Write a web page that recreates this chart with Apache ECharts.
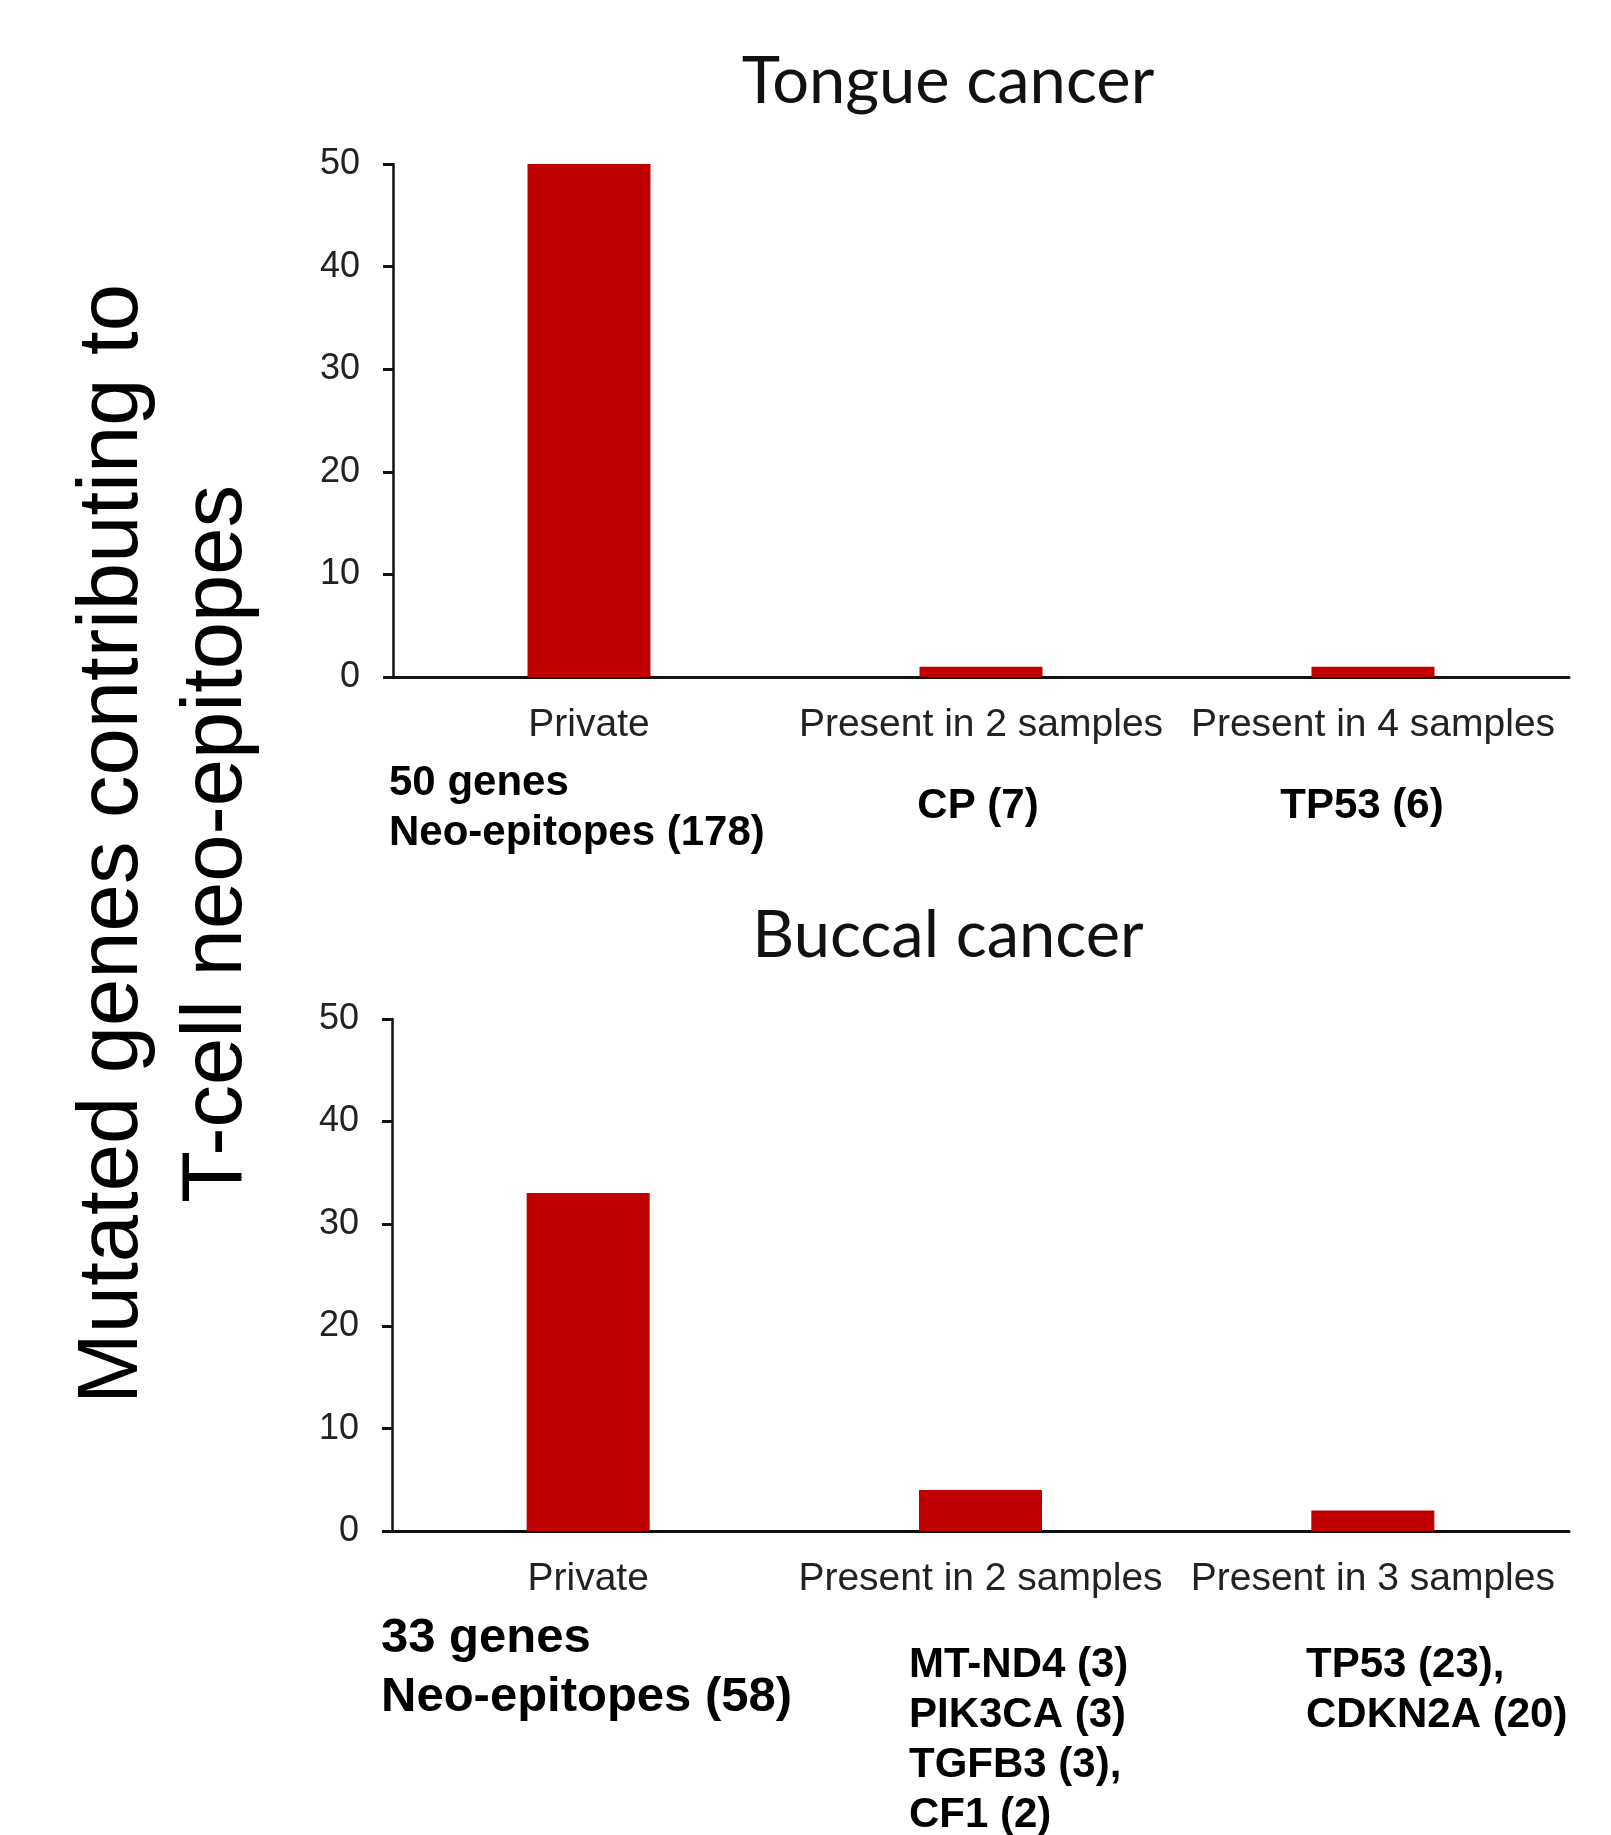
<!DOCTYPE html>
<html>
<head>
<meta charset="utf-8">
<script src="https://cdn.jsdelivr.net/npm/echarts@6/dist/echarts.min.js"></script>
<style>
html,body{margin:0;padding:0;background:#fff;}
#chart{width:1611px;height:1835px;}
</style>
</head>
<body>
<div id="chart"></div>
<script>
// ---- data ----
const tongueCategories = ['Private', 'Present in 2 samples', 'Present in 4 samples'];
const tongueValues = [50, 1, 1];
const buccalCategories = ['Private', 'Present in 2 samples', 'Present in 3 samples'];
const buccalValues = [33, 4, 2];
const yMin = 0, yMax = 50, yInterval = 10;
const panelTitles = ['Tongue cancer', 'Buccal cancer'];
const yAxisTitleLines = ['Mutated genes contributing to', 'T-cell neo-epitopes'];
const tongueSummary = ['50 genes', 'Neo-epitopes (178)'];
const tongueShared2 = ['CP (7)'];
const tongueShared4 = ['TP53 (6)'];
const buccalSummary = ['33 genes', 'Neo-epitopes (58)'];
const buccalShared2 = ['MT-ND4 (3)', 'PIK3CA (3)', 'TGFB3 (3),', 'CF1 (2)'];
const buccalShared3 = ['TP53 (23),', 'CDKN2A (20)'];

// ---- style ----
const BAR = '#C00000';
const SANS = 'Liberation Sans, Arial, sans-serif';
const chart = echarts.init(document.getElementById('chart'), null, {renderer: 'canvas'});

function xAx(idx, cats) {
  return {
    type: 'category', gridIndex: idx, data: cats,
    axisLine: {lineStyle: {color: '#111', width: 3}},
    axisTick: {show: false},
    axisLabel: {color: '#222', fontSize: 39, fontFamily: SANS, margin: 29, lineHeight: 39, interval: 0}
  };
}
function yAx(idx) {
  return {
    type: 'value', gridIndex: idx, min: yMin, max: yMax, interval: yInterval,
    splitLine: {show: false},
    axisLine: {show: true, lineStyle: {color: '#111', width: 2.5}},
    axisTick: {show: true, length: 10, lineStyle: {color: '#111', width: 3}},
    axisLabel: {color: '#222', fontSize: 36, fontFamily: SANS, margin: 33}
  };
}

function textLines(lines, x, y0, step, size, align) {
  return lines.map((t, i) => ({
    type: 'text', x: x, y: y0 + i * step,
    style: {text: t, fontSize: size, fontWeight: 'bold', fontFamily: SANS, fill: '#000',
            textAlign: align, textVerticalAlign: 'middle'}
  }));
}

const graphics = [
  {type: 'text', x: 948, y: 82, style: {text: panelTitles[0], fontSize: 65, fontFamily: 'Lato, sans-serif', fill: '#111', textAlign: 'center', textVerticalAlign: 'middle'}},
  {type: 'text', x: 948, y: 936, style: {text: panelTitles[1], fontSize: 65, fontFamily: 'Lato, sans-serif', fill: '#111', textAlign: 'center', textVerticalAlign: 'middle'}},
  {type: 'text', x: 114, y: 844, rotation: Math.PI / 2, style: {text: yAxisTitleLines[0], fontSize: 85, fontFamily: SANS, fill: '#000', textAlign: 'center', textVerticalAlign: 'middle'}},
  {type: 'text', x: 218, y: 844, rotation: Math.PI / 2, style: {text: yAxisTitleLines[1], fontSize: 85, fontFamily: SANS, fill: '#000', textAlign: 'center', textVerticalAlign: 'middle'}}
]
.concat(textLines(tongueSummary, 389, 783, 50, 42, 'left'))
.concat(textLines(tongueShared2, 978, 806, 50, 42, 'center'))
.concat(textLines(tongueShared4, 1362, 806, 50, 42, 'center'))
.concat(textLines(buccalSummary, 381, 1638, 59, 49, 'left'))
.concat(textLines(buccalShared2, 909, 1665, 50, 42, 'left'))
.concat(textLines(buccalShared3, 1306, 1665, 50, 42, 'left'));

chart.setOption({
  backgroundColor: '#fff',
  animation: false,
  grid: [
    {left: 393, right: 42, top: 164, height: 513},
    {left: 392, right: 42, top: 1019, height: 512}
  ],
  xAxis: [xAx(0, tongueCategories), xAx(1, buccalCategories)],
  yAxis: [yAx(0), yAx(1)],
  series: [
    {type: 'bar', xAxisIndex: 0, yAxisIndex: 0, data: tongueValues, barWidth: 123, itemStyle: {color: BAR}},
    {type: 'bar', xAxisIndex: 1, yAxisIndex: 1, data: buccalValues, barWidth: 123, itemStyle: {color: BAR}}
  ],
  graphic: graphics
});
</script>
</body>
</html>
